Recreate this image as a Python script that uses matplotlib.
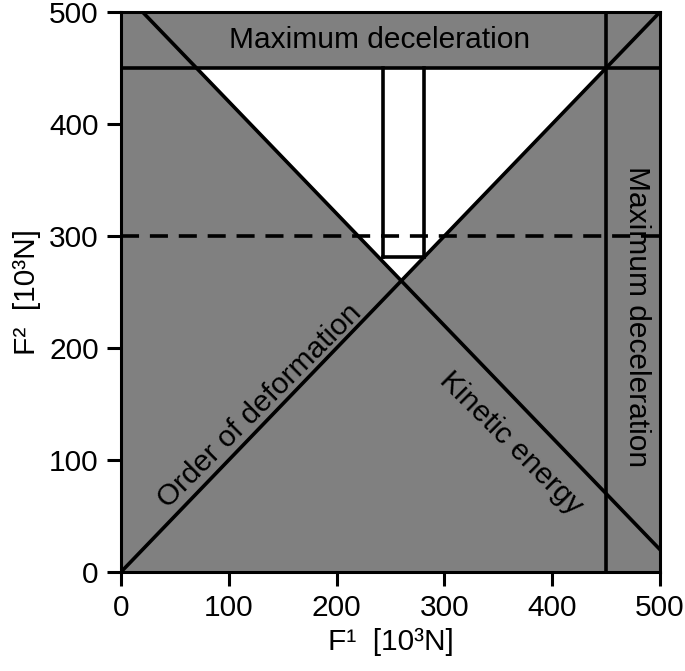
import numpy as np
import matplotlib.pyplot as plt

plt.rcParams['font.family'] = ['Liberation Sans', 'DejaVu Sans']

# boundary lines (F1, F2) in 10^3 N
deform_x = [0, 500]
deform_y = [0, 500]
kinetic_x = [20, 500]
kinetic_y = [500, 20]
decel_level = 450
target_level = 300
# white admissible triangle
feasible_x = [260, 70, 450]
feasible_y = [260, 450, 450]
# chosen window
window_x = [243, 281]
window_bottom = 281

gray = '#808080'
lw = 2.6

fig = plt.figure(figsize=(6.85, 6.71), dpi=100)
ax = fig.add_axes([121 / 685, 99 / 671, 539 / 685, 560 / 671])
ax.set_xlim(0, 500)
ax.set_ylim(0, 500)
ax.set_facecolor(gray)

ax.fill(feasible_x, feasible_y, color='white', zorder=1)

ax.plot(deform_x, deform_y, color='black', lw=lw, zorder=3)
ax.plot(kinetic_x, kinetic_y, color='black', lw=lw, zorder=3)
ax.axhline(decel_level, color='black', lw=lw, zorder=3)
ax.axvline(decel_level, color='black', lw=lw, zorder=3)
ax.axhline(target_level, color='black', lw=lw, ls=(0, (5, 3)), zorder=3)

ax.plot([window_x[0], window_x[0]], [window_bottom, decel_level], color='black', lw=lw, zorder=3)
ax.plot([window_x[1], window_x[1]], [window_bottom, decel_level], color='black', lw=lw, zorder=3)
ax.plot(window_x, [window_bottom, window_bottom], color='black', lw=lw, zorder=3)

fs = 21.5
ax.text(240, 475, 'Maximum deceleration', fontsize=fs, ha='center', va='center')
ax.text(479, 228, 'Maximum deceleration', fontsize=fs, ha='center', va='center', rotation=-90)
ax.text(129, 148, 'Order of deformation', fontsize=fs, ha='center', va='center', rotation=45,
        rotation_mode='anchor')
ax.text(362, 115, 'Kinetic energy', fontsize=fs, ha='center', va='center', rotation=-45,
        rotation_mode='anchor')

ticks = [0, 100, 200, 300, 400, 500]
ax.set_xticks(ticks)
ax.set_yticks(ticks)
ax.tick_params(labelsize=fs, length=10, width=2.2, direction='out', pad=6)
for s in ax.spines.values():
    s.set_linewidth(2.2)

ax.set_xlabel('F¹  [10³N]', fontsize=fs, labelpad=4)
ax.set_ylabel('F²  [10³N]', fontsize=fs, labelpad=6)

fig.savefig('out.png', dpi=100)
